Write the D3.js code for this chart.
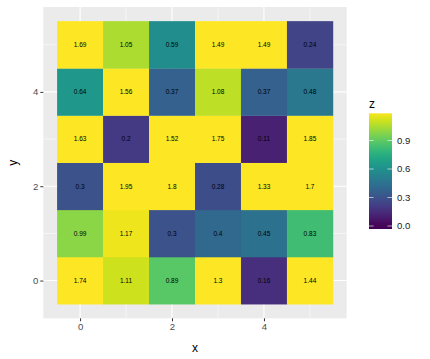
<!DOCTYPE html>
<html><head><meta charset="utf-8">
<script src="https://cdn.jsdelivr.net/npm/d3@7"></script>
<style>body{margin:0;background:#fff}svg{display:block;font-family:"Liberation Sans",Arial,sans-serif}</style>
</head><body>
<script>
const xCats = [0,1,2,3,4,5];
const yCats = [0,1,2,3,4,5];
// rows from y=0 (bottom) to y=5 (top)
const row0 = [1.74, 1.11, 0.89, 1.3, 0.16, 1.44];
const row1 = [0.99, 1.17, 0.3, 0.4, 0.45, 0.83];
const row2 = [0.3, 1.95, 1.8, 0.28, 1.33, 1.7];
const row3 = [1.63, 0.2, 1.52, 1.75, 0.11, 1.85];
const row4 = [0.64, 1.56, 0.37, 1.08, 0.37, 0.48];
const row5 = [1.69, 1.05, 0.59, 1.49, 1.49, 0.24];
const xTicks = [0,2,4];
const yTicks = [0,2,4];
const legendTicks = [0.0, 0.3, 0.6, 0.9];
const colorLimits = [0, 1.2];

const rows = [row0,row1,row2,row3,row4,row5];
const cells = [];
rows.forEach((r,yi)=>r.forEach((v,xi)=>cells.push({x:xCats[xi], y:yCats[yi], z:v})));

const W=430,H=359;
const svg=d3.select("body").append("svg").attr("width",W).attr("height",H);
const P={l:43.3,r:346.7,t:7,b:318.3};
const x=d3.scaleLinear().domain([-0.8,5.8]).range([P.l,P.r]);
const y=d3.scaleLinear().domain([-0.8,5.8]).range([P.b,P.t]);
const color=d3.scaleSequential(d3.interpolateViridis).domain(colorLimits).clamp(true);

svg.append("rect").attr("x",P.l).attr("y",P.t).attr("width",P.r-P.l).attr("height",P.b-P.t).attr("fill","#EBEBEB");
const g=svg.append("g");
[1,3,5].forEach(v=>{
  g.append("line").attr("x1",x(v)).attr("x2",x(v)).attr("y1",P.t).attr("y2",P.b).attr("stroke","#fff").attr("stroke-width",0.55);
  g.append("line").attr("y1",y(v)).attr("y2",y(v)).attr("x1",P.l).attr("x2",P.r).attr("stroke","#fff").attr("stroke-width",0.55);
});
xTicks.forEach(v=>g.append("line").attr("x1",x(v)).attr("x2",x(v)).attr("y1",P.t).attr("y2",P.b).attr("stroke","#fff").attr("stroke-width",1.1));
yTicks.forEach(v=>g.append("line").attr("y1",y(v)).attr("y2",y(v)).attr("x1",P.l).attr("x2",P.r).attr("stroke","#fff").attr("stroke-width",1.1));

const tw=x(1)-x(0), th=y(0)-y(1);
svg.append("g").selectAll("rect").data(cells).join("rect")
  .attr("x",d=>x(d.x)-tw/2).attr("y",d=>y(d.y)-th/2)
  .attr("width",tw+0.3).attr("height",th+0.3)
  .attr("fill",d=>color(d.z));
svg.append("g").selectAll("text").data(cells).join("text")
  .attr("x",d=>x(d.x)).attr("y",d=>y(d.y)).attr("dy","0.35em")
  .attr("text-anchor","middle").attr("font-size",6.5).attr("fill","#000")
  .text(d=>String(d.z));

// axes
const xa=d3.axisBottom(x).tickValues(xTicks).tickSize(3).tickPadding(2).tickFormat(d3.format("d"));
const ya=d3.axisLeft(y).tickValues(yTicks).tickSize(3).tickPadding(2).tickFormat(d3.format("d"));
const gx=svg.append("g").attr("transform",`translate(0,${P.b})`).call(xa);
const gy=svg.append("g").attr("transform",`translate(${P.l},0)`).call(ya);
[gx,gy].forEach(a=>{
  a.select(".domain").remove();
  a.selectAll(".tick line").attr("stroke","#333").attr("stroke-width",1);
  a.selectAll(".tick text").attr("fill","#4D4D4D").attr("font-size",9.6).attr("font-family","Liberation Sans,Arial,sans-serif");
});
svg.append("text").attr("x",(P.l+P.r)/2).attr("y",352).attr("text-anchor","middle").attr("font-size",12).text("x");
svg.append("text").attr("transform",`translate(17,${(P.t+P.b)/2}) rotate(-90)`).attr("text-anchor","middle").attr("font-size",12).text("y");

// legend
const lx=369, lw=23, ltop=113.3, lbot=229;
const ly=d3.scaleLinear().domain([0,1.2]).range([226,112]);
const defs=svg.append("defs");
const grad=defs.append("linearGradient").attr("id","lg").attr("x1",0).attr("y1",1).attr("x2",0).attr("y2",0);
d3.range(0,21).forEach(i=>{
  const py=lbot-(lbot-ltop)*i/20;
  grad.append("stop").attr("offset",i/20).attr("stop-color",color(ly.invert(py)));
});
svg.append("rect").attr("x",lx).attr("y",ltop).attr("width",lw).attr("height",lbot-ltop).attr("fill","url(#lg)");
legendTicks.forEach(v=>{
  svg.append("line").attr("x1",lx).attr("x2",lx+4.6).attr("y1",ly(v)).attr("y2",ly(v)).attr("stroke","#fff").attr("stroke-width",0.6);
  svg.append("line").attr("x1",lx+lw-4.6).attr("x2",lx+lw).attr("y1",ly(v)).attr("y2",ly(v)).attr("stroke","#fff").attr("stroke-width",0.6);
  svg.append("text").attr("x",lx+lw+5).attr("y",ly(v)).attr("dy","0.35em").attr("font-size",9.6).attr("fill","#1a1a1a").text(d3.format(".1f")(v));
});
svg.append("text").attr("x",lx).attr("y",108).attr("font-size",12).text("z");
</script>
</body></html>
